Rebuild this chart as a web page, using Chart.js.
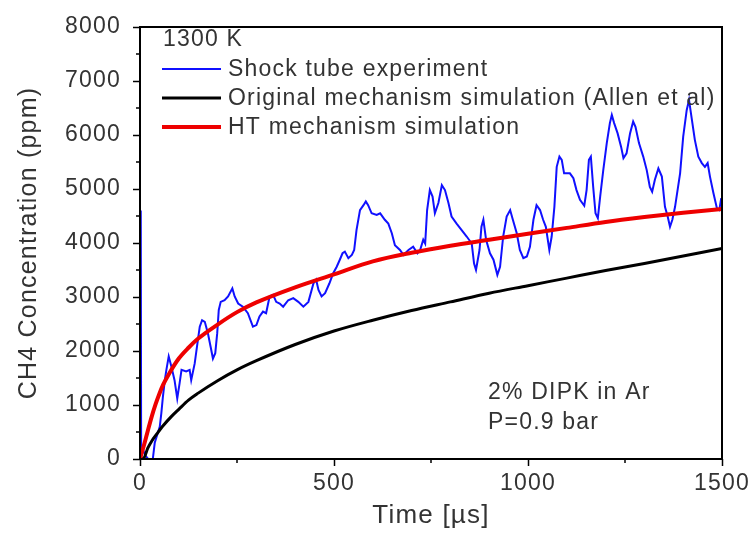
<!DOCTYPE html>
<html>
<head>
<meta charset="utf-8">
<script src="https://cdn.jsdelivr.net/npm/chart.js@4.4.1/dist/chart.umd.min.js"></script>
<style>
  html, body { margin: 0; padding: 0; background: #fff; }
  #wrap { width: 753px; height: 535px; }
</style>
</head>
<body>
<div id="wrap"><canvas id="chart" width="753" height="535"></canvas></div>
<script>
// Shock tube experiment (time in us, CH4 in ppm)
const expTime = [0, 2, 2, 3, 8, 14, 21, 33, 38, 51, 55, 59, 64, 68, 74, 81, 89, 96, 102, 107, 119, 128, 132, 141, 148,
  154, 160, 167, 175, 182, 188, 194, 199, 203, 208, 218, 227, 238, 244, 253, 265, 278, 291, 300, 308, 317, 325, 334,
  343, 351, 360, 369, 382, 395, 408, 421, 434, 447, 454, 460, 468, 477, 488, 498, 507, 515, 522, 528, 537, 546, 552,
  558, 567, 576, 582, 588, 597, 610, 619, 631, 640, 649, 657, 670, 679, 692, 704, 715, 722, 730, 735, 740, 747, 754,
  760, 769, 778, 786, 795, 803, 816, 829, 842, 855, 861, 866, 875, 880, 885, 892, 902, 911, 921, 928, 936, 945, 954,
  961, 971, 979, 988, 997, 1005, 1014, 1022, 1031, 1039, 1046, 1055, 1061, 1068, 1074, 1081, 1087, 1093, 1104, 1108,
  1117, 1125, 1134, 1145, 1151, 1157, 1162, 1168, 1174, 1180, 1186, 1194, 1203, 1211, 1216, 1222, 1231, 1240, 1246,
  1254, 1263, 1271, 1277, 1286, 1297, 1306, 1314, 1320, 1327, 1336, 1345, 1353, 1360, 1366, 1372, 1379, 1392, 1400,
  1409, 1415, 1420, 1430, 1439, 1448, 1456, 1463, 1469, 1478, 1487, 1493, 1498];
const expConc = [0, 0, 4600, 40, 170, 60, 0, 0, 300, 600, 850, 1150, 1460, 1650, 1900, 1710, 1460, 1120, 1400, 1650, 1620,
  1650, 1460, 1770, 2140, 2450, 2570, 2540, 2330, 2080, 1860, 1960, 2330, 2760, 2910, 2940, 3010, 3160, 3010, 2880,
  2820, 2700, 2450, 2480, 2640, 2730, 2700, 3010, 3040, 2910, 2880, 2820, 2940, 2980, 2910, 2820, 2910, 3250, 3320,
  3130, 3010, 3070, 3250, 3440, 3560, 3690, 3810, 3840, 3720, 3780, 3870, 4240, 4610, 4700, 4770, 4700, 4550, 4520,
  4550, 4430, 4360, 4180, 3960, 3870, 3780, 3870, 3930, 3810, 3870, 4060, 3990, 4610, 4980, 4860, 4550, 4740, 5070,
  4980, 4740, 4490, 4360, 4240, 4120, 3990, 3620, 3500, 3870, 4300, 4430, 4060, 3810, 3690, 3410, 3560, 4120, 4490,
  4610, 4430, 4180, 3870, 3720, 3750, 3930, 4430, 4700, 4610, 4430, 4300, 3870, 4120, 4670, 5410, 5600, 5540, 5290,
  5290, 5290, 5200, 4980, 4800, 4690, 4980, 5540, 5600, 5040, 4550, 4460, 4860, 5350, 5850, 6220, 6370, 6220, 6030,
  5780, 5570, 5660, 6030, 6250, 6150, 5850, 5600, 5350, 5040, 4950, 5170, 5380, 5230, 4670, 4490, 4300, 4430, 4670,
  5290, 5970, 6460, 6650, 6400, 5910, 5600, 5480, 5410, 5480, 5230, 4920, 4640, 4610, 4830];

// Original mechanism simulation (Allen et al)
const origTime = [0, 10, 20, 30, 45, 60, 80, 100, 125, 150, 200, 250, 300, 400, 500, 600, 700, 800, 900, 1000, 1100,
  1200, 1300, 1400, 1500];
const origConc = [0, 20, 200, 330, 480, 620, 780, 920, 1090, 1220, 1450, 1650, 1820, 2120, 2370, 2570, 2750, 2910,
  3070, 3210, 3350, 3490, 3620, 3760, 3900];

// HT mechanism simulation
const htTime = [0, 10, 20, 30, 40, 50, 60, 75, 100, 125, 150, 200, 250, 300, 400, 500, 600, 700, 800, 900, 1000, 1100,
  1200, 1300, 1400, 1500];
const htConc = [0, 250, 520, 780, 1010, 1210, 1380, 1580, 1860, 2060, 2230, 2490, 2720, 2900, 3180, 3420, 3660, 3820,
  3950, 4060, 4170, 4280, 4390, 4480, 4560, 4630];

const seriesNames = ['Shock tube experiment', 'Original mechanism simulation (Allen et al)', 'HT mechanism simulation'];
const legendTitle = '1300 K';
const noteLines = ['2% DIPK in Ar', 'P=0.9 bar'];
const xTickValues = [0, 500, 1000, 1500];
const yTickValues = [0, 1000, 2000, 3000, 4000, 5000, 6000, 7000, 8000];

const textColor = '#333';
Chart.defaults.font.family = '"Liberation Sans", Arial, sans-serif';

function toPoints(xs, ys) {
  return xs.map((x, i) => ({ x: x, y: ys[i] }));
}

// letter spacing, frame, minor ticks, legend and notes
const decor = {
  id: 'decor',
  beforeDraw(chart) {
    chart.ctx.letterSpacing = '1.2px';
  },
  afterDraw(chart) {
    const ctx = chart.ctx;
    const a = chart.chartArea;
    const xs = chart.scales.x;
    const ys = chart.scales.y;
    ctx.save();
    ctx.letterSpacing = '1.2px';
    ctx.strokeStyle = '#000';
    ctx.lineWidth = 2;
    ctx.strokeRect(a.left, a.top, a.right - a.left, a.bottom - a.top);

    ctx.lineWidth = 1.5;
    ctx.beginPath();
    for (let v = 250; v < 1500; v += 500) {
      const px = xs.getPixelForValue(v);
      ctx.moveTo(px, a.bottom);
      ctx.lineTo(px, a.bottom + 4);
    }
    for (let v = 500; v < 8000; v += 1000) {
      const py = ys.getPixelForValue(v);
      ctx.moveTo(a.left, py);
      ctx.lineTo(a.left - 4, py);
    }
    ctx.stroke();

    // legend
    ctx.fillStyle = textColor;
    ctx.font = '23px "Liberation Sans", Arial, sans-serif';
    ctx.textBaseline = 'middle';
    ctx.textAlign = 'left';
    ctx.fillText(legendTitle, 163, 40);
    chart.data.datasets.forEach((ds, i) => {
      const y = 69 + i * 29;
      ctx.strokeStyle = ds.borderColor;
      ctx.lineWidth = ds.borderWidth;
      ctx.beginPath();
      ctx.moveTo(162, y);
      ctx.lineTo(221, y);
      ctx.stroke();
      ctx.fillText(ds.label, 228, y + 1);
    });

    // notes
    noteLines.forEach((t, i) => {
      ctx.fillText(t, 488, 393 + i * 30);
    });
    ctx.restore();
  }
};

const ctx = document.getElementById('chart').getContext('2d');
const chart = new Chart(ctx, {
  type: 'line',
  data: {
    datasets: [
      {
        label: seriesNames[0],
        data: toPoints(expTime, expConc),
        borderColor: '#1010ff',
        borderWidth: 2,
        pointRadius: 0,
        tension: 0,
        order: 3
      },
      {
        label: seriesNames[1],
        data: toPoints(origTime, origConc),
        borderColor: '#000000',
        borderWidth: 3,
        pointRadius: 0,
        cubicInterpolationMode: 'monotone',
        order: 2
      },
      {
        label: seriesNames[2],
        data: toPoints(htTime, htConc),
        borderColor: '#ee0000',
        borderWidth: 4,
        pointRadius: 0,
        cubicInterpolationMode: 'monotone',
        order: 1
      }
    ]
  },
  options: {
    responsive: false,
    animation: false,
    layout: { padding: { top: 27, right: 31, left: 0, bottom: 0 } },
    plugins: {
      legend: { display: false },
      tooltip: { enabled: false }
    },
    scales: {
      x: {
        type: 'linear',
        min: 0,
        max: 1500,
        afterBuildTicks: s => { s.ticks = xTickValues.map(v => ({ value: v })); },
        afterFit: s => { s.height = 76; },
        ticks: { color: textColor, font: { size: 23 }, padding: 4, maxRotation: 0, callback: v => String(v) },
        grid: { drawOnChartArea: false, drawTicks: true, tickLength: 7, tickColor: '#000', tickWidth: 1.5 },
        border: { display: false },
        title: { display: true, text: 'Time [\u00b5s]', color: textColor, font: { size: 26 }, padding: { top: 0, bottom: 4 } }
      },
      y: {
        min: 0,
        max: 8000,
        afterBuildTicks: s => { s.ticks = yTickValues.map(v => ({ value: v })); },
        afterFit: s => { s.width = 140; },
        ticks: { color: textColor, font: { size: 23 }, padding: 12, callback: v => String(v) },
        grid: { drawOnChartArea: false, drawTicks: true, tickLength: 7, tickColor: '#000', tickWidth: 1.5 },
        border: { display: false },
        title: { display: true, text: 'CH4 Concentration (ppm)', color: textColor, font: { size: 25 }, padding: { top: 14, bottom: 0 } }
      }
    }
  },
  plugins: [decor]
});
</script>
</body>
</html>
